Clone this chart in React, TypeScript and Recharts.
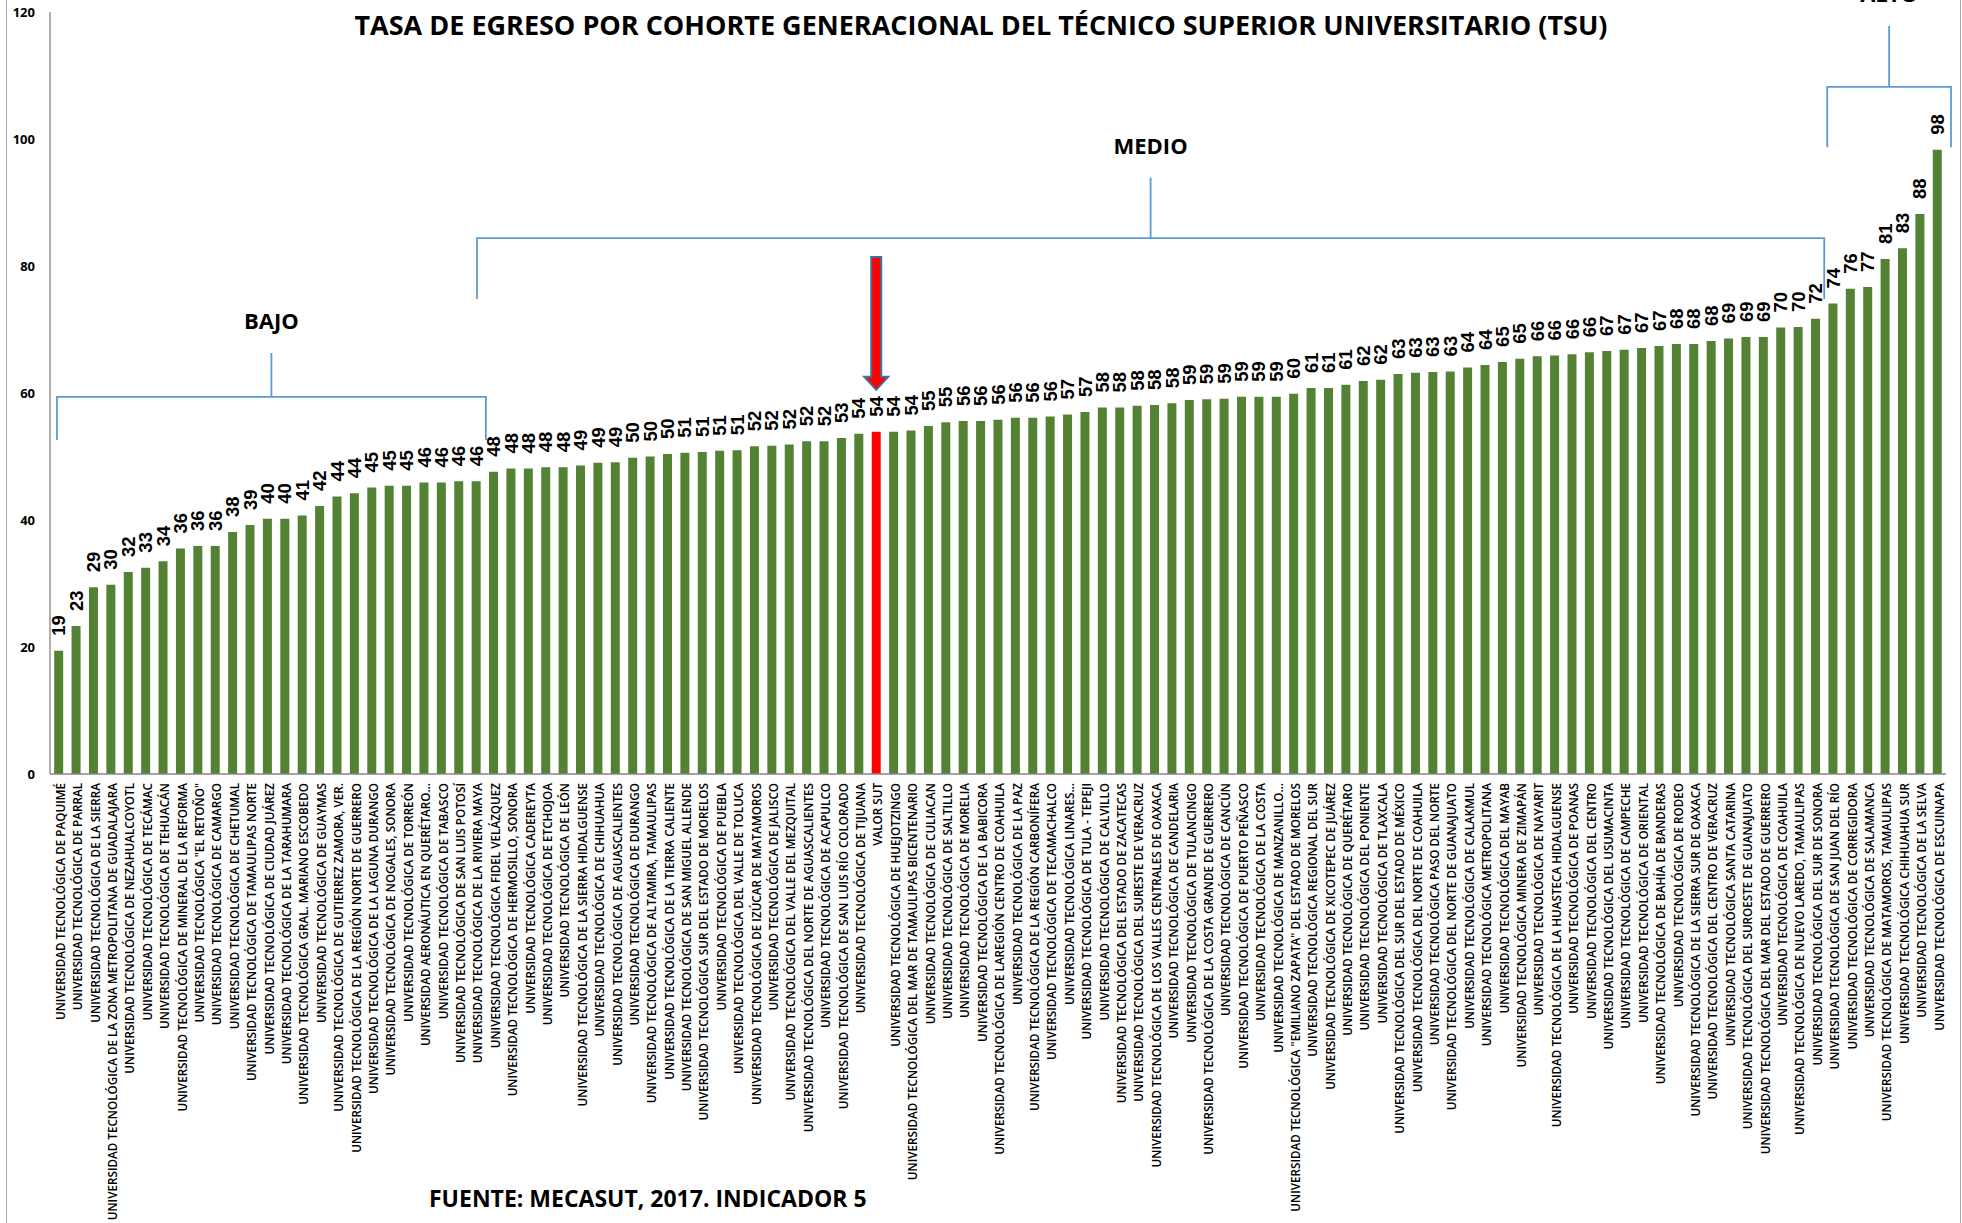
import React from 'react';
import { BarChart, Bar, XAxis, YAxis, Cell, ReferenceArea } from 'recharts';

const categories = [
  'UNIVERSIDAD TECNOLÓGICA DE PAQUIMÉ',
  'UNIVERSIDAD TECNOLÓGICA DE PARRAL',
  'UNIVERSIDAD TECNOLÓGICA DE LA SIERRA',
  'UNIVERSIDAD TECNOLÓGICA DE LA ZONA METROPOLITANA DE GUADALAJARA',
  'UNIVERSIDAD TECNOLÓGICA DE NEZAHUALCOYOTL',
  'UNIVERSIDAD TECNOLÓGICA DE TECÁMAC',
  'UNIVERSIDAD TECNOLÓGICA DE TEHUACÁN',
  'UNIVERSIDAD TECNOLÓGICA DE MINERAL DE LA REFORMA',
  'UNIVERSIDAD TECNOLÓGICA "EL RETOÑO"',
  'UNIVERSIDAD TECNOLÓGICA DE CAMARGO',
  'UNIVERSIDAD TECNOLÓGICA DE CHETUMAL',
  'UNIVERSIDAD TECNOLÓGICA DE TAMAULIPAS NORTE',
  'UNIVERSIDAD TECNOLÓGICA DE CIUDAD JUÁREZ',
  'UNIVERSIDAD TECNOLÓGICA DE LA TARAHUMARA',
  'UNIVERSIDAD TECNOLÓGICA GRAL. MARIANO ESCOBEDO',
  'UNIVERSIDAD TECNOLÓGICA DE GUAYMAS',
  'UNIVERSIDAD TECNOLÓGICA DE GUTIERREZ ZAMORA, VER.',
  'UNIVERSIDAD TECNOLÓGICA DE LA REGIÓN NORTE DE GUERRERO',
  'UNIVERSIDAD TECNOLÓGICA DE LA LAGUNA DURANGO',
  'UNIVERSIDAD TECNOLÓGICA DE NOGALES, SONORA',
  'UNIVERSIDAD TECNOLÓGICA DE TORREÓN',
  'UNIVERSIDAD AERONÁUTICA EN QUERÉTARO...',
  'UNIVERSIDAD TECNOLÓGICA DE TABASCO',
  'UNIVERSIDAD TECNOLÓGICA DE SAN LUIS POTOSÍ',
  'UNIVERSIDAD TECNOLÓGICA DE LA RIVIERA MAYA',
  'UNIVERSIDAD TECNOLÓGICA FIDEL VELÁZQUEZ',
  'UNIVERSIDAD TECNOLÓGICA DE HERMOSILLO, SONORA',
  'UNIVERSIDAD TECNOLÓGICA CADEREYTA',
  'UNIVERSIDAD TECNOLÓGICA DE ETCHOJOA',
  'UNIVERSIDAD TECNOLÓGICA DE LEÓN',
  'UNIVERSIDAD TECNOLÓGICA DE LA SIERRA HIDALGUENSE',
  'UNIVERSIDAD TECNOLÓGICA DE CHIHUAHUA',
  'UNIVERSIDAD TECNOLÓGICA DE AGUASCALIENTES',
  'UNIVERSIDAD TECNOLÓGICA DE DURANGO',
  'UNIVERSIDAD TECNOLÓGICA DE ALTAMIRA, TAMAULIPAS',
  'UNIVERSIDAD TECNOLÓGICA DE LA TIERRA CALIENTE',
  'UNIVERSIDAD TECNOLÓGICA DE SAN MIGUEL ALLENDE',
  'UNIVERSIDAD TECNOLÓGICA SUR DEL ESTADO DE MORELOS',
  'UNIVERSIDAD TECNOLÓGICA DE PUEBLA',
  'UNIVERSIDAD TECNOLÓGICA DEL VALLE DE TOLUCA',
  'UNIVERSIDAD TECNOLÓGICA DE IZÚCAR DE MATAMOROS',
  'UNIVERSIDAD TECNOLÓGICA DE JALISCO',
  'UNIVERSIDAD TECNOLÓGICA DEL VALLE DEL MEZQUITAL',
  'UNIVERSIDAD TECNOLÓGICA DEL NORTE DE AGUASCALIENTES',
  'UNIVERSIDAD TECNOLÓGICA DE ACAPULCO',
  'UNIVERSIDAD TECNOLÓGICA DE SAN LUIS RÍO COLORADO',
  'UNIVERSIDAD TECNOLÓGICA DE TIJUANA',
  'VALOR SUT',
  'UNIVERSIDAD TECNOLÓGICA DE HUEJOTZINGO',
  'UNIVERSIDAD TECNOLÓGICA DEL MAR DE TAMAULIPAS BICENTENARIO',
  'UNIVERSIDAD TECNOLÓGICA DE CULIACAN',
  'UNIVERSIDAD TECNOLÓGICA DE SALTILLO',
  'UNIVERSIDAD TECNOLÓGICA DE MORELIA',
  'UNIVERSIDAD TECNOLÓGICA DE LA BABICORA',
  'UNIVERSIDAD TECNOLÓGICA DE LAREGIÓN CENTRO DE COAHUILA',
  'UNIVERSIDAD TECNOLÓGICA DE LA PAZ',
  'UNIVERSIDAD TECNOLÓGICA DE LA REGIÓN CARBONÍFERA',
  'UNIVERSIDAD TECNOLÓGICA DE TECAMACHALCO',
  'UNIVERSIDAD TECNOLÓGICA LINARES...',
  'UNIVERSIDAD TECNOLÓGICA DE TULA - TEPEJI',
  'UNIVERSIDAD TECNOLÓGICA DE CALVILLO',
  'UNIVERSIDAD TECNOLÓGICA DEL ESTADO DE ZACATECAS',
  'UNIVERSIDAD TECNOLÓGICA DEL SURESTE DE VERACRUZ',
  'UNIVERSIDAD TECNOLÓGICA DE LOS VALLES CENTRALES DE OAXACA',
  'UNIVERSIDAD TECNOLÓGICA DE CANDELARIA',
  'UNIVERSIDAD TECNOLÓGICA DE TULANCINGO',
  'UNIVERSIDAD TECNOLÓGICA DE LA COSTA GRANDE DE GUERRERO',
  'UNIVERSIDAD TECNOLÓGICA DE CANCÚN',
  'UNIVERSIDAD TECNOLÓGICA DE PUERTO PEÑASCO',
  'UNIVERSIDAD TECNOLÓGICA DE LA COSTA',
  'UNIVERSIDAD TECNOLÓGICA DE MANZANILLO...',
  'UNIVERSIDAD TECNOLÓGICA "EMILIANO ZAPATA" DEL ESTADO DE MORELOS',
  'UNIVERSIDAD TECNOLÓGICA REGIONAL DEL SUR',
  'UNIVERSIDAD TECNOLÓGICA DE XICOTEPEC DE JUÁREZ',
  'UNIVERSIDAD TECNOLÓGICA DE QUERÉTARO',
  'UNIVERSIDAD TECNOLÓGICA DEL PONIENTE',
  'UNIVERSIDAD TECNOLÓGICA DE TLAXCALA',
  'UNIVERSIDAD TECNOLÓGICA DEL SUR DEL ESTADO DE MÉXICO',
  'UNIVERSIDAD TECNOLÓGICA DEL NORTE DE COAHUILA',
  'UNIVERSIDAD TECNOLÓGICA PASO DEL NORTE',
  'UNIVERSIDAD TECNOLÓGICA DEL NORTE DE GUANAJUATO',
  'UNIVERSIDAD TECNOLÓGICA DE CALAKMUL',
  'UNIVERSIDAD TECNOLÓGICA METROPOLITANA',
  'UNIVERSIDAD TECNOLÓGICA DEL MAYAB',
  'UNIVERSIDAD TECNOLÓGICA MINERA DE ZIMAPÁN',
  'UNIVERSIDAD TECNOLÓGICA DE NAYARIT',
  'UNIVERSIDAD TECNOLÓGICA DE LA HUASTECA HIDALGUENSE',
  'UNIVERSIDAD TECNOLÓGICA DE POANAS',
  'UNIVERSIDAD TECNOLÓGICA DEL CENTRO',
  'UNIVERSIDAD TECNOLÓGICA DEL USUMACINTA',
  'UNIVERSIDAD TECNOLÓGICA DE CAMPECHE',
  'UNIVERSIDAD TECNOLÓGICA DE ORIENTAL',
  'UNIVERSIDAD TECNOLÓGICA DE BAHÍA DE BANDERAS',
  'UNIVERSIDAD TECNOLÓGICA DE RODEO',
  'UNIVERSIDAD TECNOLÓGICA DE LA SIERRA SUR DE OAXACA',
  'UNIVERSIDAD TECNOLÓGICA DEL CENTRO DE VERACRUZ',
  'UNIVERSIDAD TECNOLÓGICA SANTA CATARINA',
  'UNIVERSIDAD TECNOLÓGICA DEL SUROESTE DE GUANAJUATO',
  'UNIVERSIDAD TECNOLÓGICA DEL MAR DEL ESTADO DE GUERRERO',
  'UNIVERSIDAD TECNOLÓGICA DE COAHUILA',
  'UNIVERSIDAD TECNOLÓGICA DE NUEVO LAREDO, TAMAULIPAS',
  'UNIVERSIDAD TECNOLÓGICA DEL SUR DE SONORA',
  'UNIVERSIDAD TECNOLÓGICA DE SAN JUAN DEL RÍO',
  'UNIVERSIDAD TECNOLÓGICA DE CORREGIDORA',
  'UNIVERSIDAD TECNOLÓGICA DE SALAMANCA',
  'UNIVERSIDAD TECNOLÓGICA DE MATAMOROS, TAMAULIPAS',
  'UNIVERSIDAD TECNOLÓGICA CHIHUAHUA SUR',
  'UNIVERSIDAD TECNOLÓGICA DE LA SELVA',
  'UNIVERSIDAD TECNOLÓGICA DE ESCUINAPA',
];

// tasa de egreso (%)
const values = [
  19.4, 23.3, 29.4, 29.8, 31.8, 32.5, 33.5, 35.5, 35.9, 35.9,
  38.1, 39.2, 40.2, 40.2, 40.7, 42.2, 43.7, 44.2, 45.1, 45.4,
  45.4, 45.9, 45.9, 46.1, 46.1, 47.6, 48.1, 48.1, 48.3, 48.3,
  48.6, 49.0, 49.1, 49.8, 50.0, 50.4, 50.6, 50.7, 50.9, 51.0,
  51.6, 51.7, 51.9, 52.4, 52.4, 52.9, 53.6, 53.9, 53.9, 54.1,
  54.8, 55.4, 55.6, 55.6, 55.8, 56.1, 56.1, 56.3, 56.6, 57.0,
  57.7, 57.7, 58.0, 58.1, 58.4, 58.9, 59.0, 59.1, 59.4, 59.4,
  59.4, 59.9, 60.8, 60.8, 61.3, 61.9, 62.1, 63.0, 63.2, 63.3,
  63.4, 64.0, 64.4, 64.9, 65.4, 65.8, 65.9, 66.1, 66.4, 66.6,
  66.8, 67.1, 67.4, 67.7, 67.7, 68.2, 68.6, 68.8, 68.8, 70.3,
  70.4, 71.7, 74.1, 76.4, 76.7, 81.1, 82.8, 88.2, 98.3,
];

const yTicks = [0, 20, 40, 60, 80, 100, 120];

const highlightName = 'VALOR SUT';
const arrowTip = 60.5;
const arrowTop = 81.4;

// corchetes de nivel
const bracketNames = ['BAJO', 'MEDIO', 'ALTO'];
const bracketFrom = [categories[0], categories[24], categories[102]];
const bracketTo = [categories[24], categories[101], categories[108]];
const bracketLine = [59.4, 84.4, 108.2];
const bracketLeg = [52.6, 74.8, 98.7];
const bracketTick = [66.3, 93.9, 117.8];

const title = 'TASA DE EGRESO POR COHORTE GENERACIONAL DEL TÉCNICO SUPERIOR UNIVERSITARIO (TSU)';
const source = 'FUENTE: MECASUT, 2017. INDICADOR 5';

const data = categories.map((name, i) => ({ name, value: values[i] }));

const GREEN = '#548235';
const RED = '#ff0000';
const BLUE = '#5b9bd5';
const FONT = '"Open Sans", "Liberation Sans", sans-serif';

// ajustes de extremos (px) para los corchetes
const bracketPad: Record<string, [number, number]> = {
  BAJO: [7, 1],
  MEDIO: [9.5, 0],
  ALTO: [3, 5],
};

const CategoryTick = (props: any) => {
  const { x, y, payload } = props;
  return (
    <text
      transform={`translate(${x + 6.2},${y + 9}) rotate(-90)`}
      textAnchor="end"
      fontSize={11.7}
      fontFamily={FONT}
      fontWeight={600}
      fill="#000"
    >
      {payload.value}
    </text>
  );
};

const ValueLabel = (props: any) => {
  const { x, y, width, value } = props;
  const cx = Number(x) + Number(width) / 2 + 6.6;
  const ty = Number(y) - 15;
  return (
    <text
      transform={`translate(${cx},${ty}) rotate(-90)`}
      textAnchor="start"
      fontSize={18.5}
      fontFamily='"Liberation Sans", Arial, sans-serif'
      fontWeight={700}
      fill="#000"
    >
      {Math.round(value)}
    </text>
  );
};

const makeBracket = (i: number) => (props: any) => {
  const { x, y, width, height } = props;
  const name = bracketNames[i];
  const [padL, padR] = bracketPad[name];
  const left = x + padL;
  const right = x + width + padR;
  const bottom = y + height;
  const lineY = bottom - (height * (bracketLine[i] - bracketLeg[i])) / (bracketTick[i] - bracketLeg[i]);
  const mid = (left + right) / 2;
  return (
    <g>
      <path
        d={`M${left},${bottom} L${left},${lineY} L${right},${lineY} L${right},${bottom} M${mid},${lineY} L${mid},${y}`}
        fill="none"
        stroke={BLUE}
        strokeWidth={1.8}
      />
      <text
        x={mid}
        y={y - 33}
        textAnchor="middle"
        dominantBaseline="central"
        fontSize={22}
        fontFamily={FONT}
        fontWeight={700}
        fill="#000"
      >
        {name}
      </text>
    </g>
  );
};

const ArrowShape = (props: any) => {
  const { x, y, width, height } = props;
  const cx = x + width / 2;
  const top = y;
  const tip = y + height;
  const neck = tip - 13;
  const pts = [
    [cx - 5, top],
    [cx + 5, top],
    [cx + 5, neck],
    [cx + 12, neck],
    [cx, tip],
    [cx - 12, neck],
    [cx - 5, neck],
  ]
    .map((p) => p.join(','))
    .join(' ');
  return <polygon points={pts} fill={RED} stroke="#41719c" strokeWidth={2} />;
};

export default function App() {
  return (
    <div style={{ position: 'absolute', left: 0, top: 0, width: 1962, height: 1223, background: '#fff', overflow: 'hidden' }}>
      <div
        style={{
          position: 'absolute',
          left: 6,
          top: -2,
          width: 1953,
          height: 1240,
          borderLeft: '1px solid #a6a6a6',
          borderRight: '1px solid #a6a6a6',
        }}
      />
      <BarChart
        width={1962}
        height={1223}
        data={data}
        margin={{ top: 12, right: 16, left: 0, bottom: 0 }}
        barCategoryGap="24%"
      >
        <XAxis
          dataKey="name"
          interval={0}
          height={449}
          tickLine={false}
          tickSize={0}
          tickMargin={0}
          axisLine={{ stroke: '#868686', strokeWidth: 1.3 }}
          tick={<CategoryTick />}
        />
        <YAxis
          domain={[0, 120]}
          ticks={yTicks}
          width={50}
          tickLine={false}
          tickSize={0}
          tickMargin={15}
          axisLine={{ stroke: '#868686', strokeWidth: 1.3 }}
          tick={{ fontSize: 13, fontWeight: 700, fill: '#000', fontFamily: FONT }}
        />
        <Bar dataKey="value" fill={GREEN} isAnimationActive={false} label={<ValueLabel />}>
          {data.map((d, i) => (
            <Cell key={`c-${i}`} fill={d.name === highlightName ? RED : GREEN} />
          ))}
        </Bar>
        {bracketNames.map((n, i) => (
          <ReferenceArea
            key={n}
            x1={bracketFrom[i]}
            x2={bracketTo[i]}
            y1={bracketLeg[i]}
            y2={bracketTick[i]}
            ifOverflow="visible"
            shape={makeBracket(i)}
          />
        ))}
        <ReferenceArea
          x1={highlightName}
          x2={highlightName}
          y1={arrowTip}
          y2={arrowTop}
          ifOverflow="visible"
          shape={ArrowShape}
        />
      </BarChart>
      <div
        style={{
          position: 'absolute',
          left: 0,
          width: 1962,
          top: 11,
          textAlign: 'center',
          fontFamily: FONT,
          fontWeight: 700,
          fontSize: 27,
          lineHeight: 1,
          color: '#000',
        }}
      >
        {title}
      </div>
      <div
        style={{
          position: 'absolute',
          left: 429,
          top: 1187,
          fontFamily: FONT,
          fontWeight: 700,
          fontSize: 23,
          lineHeight: 1,
          color: '#000',
          whiteSpace: 'nowrap',
        }}
      >
        {source}
      </div>
    </div>
  );
}
